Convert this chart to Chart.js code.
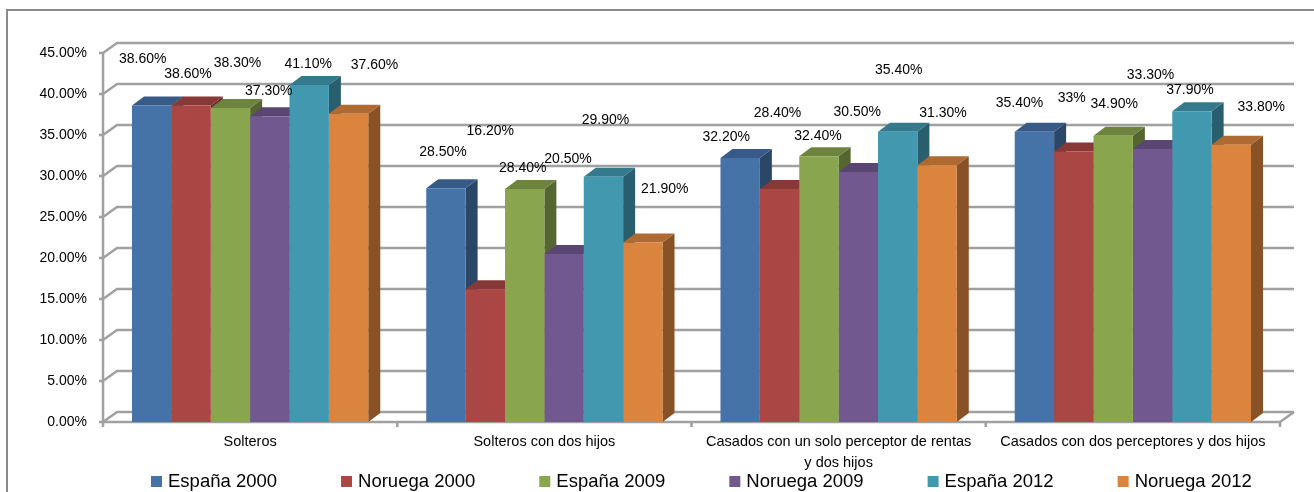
<!DOCTYPE html>
<html>
<head>
<meta charset="utf-8">
<title>Tipo impositivo por tipo de hogar</title>
<script src="https://cdn.jsdelivr.net/npm/chart.js@4.4.1/dist/chart.umd.min.js"></script>
<style>
  html, body { margin: 0; padding: 0; background: #fff; }
  #chart { display: block; }
</style>
</head>
<body>
<canvas id="chart" width="1314" height="492"></canvas>
<script>
// ─── Data ────────────────────────────────────────────────────────────────────

const categories = [
  'Solteros',
  'Solteros con dos hijos',
  ['Casados con un solo perceptor de rentas', 'y dos hijos'],
  'Casados con dos perceptores y dos hijos',
];

const seriesNames = ['España 2000', 'Noruega 2000', 'España 2009', 'Noruega 2009', 'España 2012', 'Noruega 2012'];

const espana2000  = [38.6, 28.5, 32.2, 35.4];
const noruega2000 = [38.6, 16.2, 28.4, 33.0];
const espana2009  = [38.3, 28.4, 32.4, 34.9];
const noruega2009 = [37.3, 20.5, 30.5, 33.3];
const espana2012  = [41.1, 29.9, 35.4, 37.9];
const noruega2012 = [37.6, 21.9, 31.3, 33.8];

const seriesValues = [espana2000, noruega2000, espana2009, noruega2009, espana2012, noruega2012];

const yTicks = { min: 0, max: 45, step: 5 };

// ─── Style ───────────────────────────────────────────────────────────────────

const SERIES_COLORS = ['#4572A7', '#AA4643', '#89A54E', '#71588F', '#4198AF', '#DB843D'];

// where each value label sits relative to the top centre of its bar (px)
const labelShift = [
  [[-9, -46], [-3, -36], [-14, -21], [-15, -29]],
  [[-3, -31], [5, -158], [-2, -76], [-2, -53]],
  [[7, -45], [-2, -21], [-1, -20], [1, -32]],
  [[-1, -25], [4, -95], [-1, -60], [-2, -74]],
  [[-1, -21], [2, -57], [1, -62], [-2, -21]],
  [[26, -49], [22, -53], [6, -52], [30, -38]],
];

const FONT = '"Liberation Sans", Arial, sans-serif';
const BAR_DEPTH  = { x: 12, y: 9 };
const WALL_DEPTH = { x: 14, y: 10 };
const GRID_COLOR = '#a0a0a0';

function shade(hex, f) {
  const n = parseInt(hex.slice(1), 16);
  const r = Math.round(((n >> 16) & 255) * f);
  const g = Math.round(((n >> 8) & 255) * f);
  const b = Math.round((n & 255) * f);
  return `rgb(${r},${g},${b})`;
}

function fmtPct(v) {
  return Number.isInteger(v) ? `${v}%` : `${v.toFixed(2)}%`;
}

// ─── 3D box plugin: walls, bar sides/tops, labels, legend ─────────────────────

const box3d = {
  id: 'box3d',

  beforeDraw(chart) {
    const { ctx, width, height } = chart;
    ctx.save();
    ctx.fillStyle = '#fff';
    ctx.fillRect(0, 0, width, height);
    // outer frame
    ctx.strokeStyle = '#8a8a8a';
    ctx.lineWidth = 2;
    ctx.beginPath();
    ctx.moveTo(7, height + 2);
    ctx.lineTo(7, 10);
    ctx.lineTo(width + 2, 10);
    ctx.stroke();
    ctx.restore();
  },

  beforeDatasetsDraw(chart) {
    const { ctx, chartArea: { left: L, right: R, top: T, bottom: B } } = chart;
    const ys = chart.scales.y;
    const wx = WALL_DEPTH.x, wy = WALL_DEPTH.y;

    ctx.save();
    ctx.strokeStyle = GRID_COLOR;
    ctx.lineWidth = 2.5;
    ctx.lineJoin = 'round';

    // side wall + back wall gridlines
    ys.ticks.forEach((t) => {
      const py = ys.getPixelForValue(t.value);
      ctx.beginPath();
      ctx.moveTo(L - 4, py);
      ctx.lineTo(L, py);
      ctx.lineTo(L + wx, py - wy);
      ctx.lineTo(R + wx, py - wy);
      ctx.stroke();
    });

    // vertical axis, floor edges
    ctx.beginPath();
    ctx.moveTo(L, T);
    ctx.lineTo(L, B + 5);
    ctx.moveTo(L, B);
    ctx.lineTo(R, B);
    ctx.lineTo(R + wx, B - wy);
    ctx.stroke();

    // category tick marks
    const n = categories.length;
    ctx.beginPath();
    for (let i = 1; i <= n; i++) {
      const x = L + (R - L) * i / n;
      ctx.moveTo(x, B);
      ctx.lineTo(x, B + 5);
    }
    ctx.stroke();

    // bar side and top faces, left to right so neighbours overlap correctly
    const dx = BAR_DEPTH.x, dy = BAR_DEPTH.y;
    for (let i = 0; i < n; i++) {
      chart.data.datasets.forEach((ds, j) => {
        const bar = chart.getDatasetMeta(j).data[i];
        const { x, y, base, width } = bar.getProps(['x', 'y', 'base', 'width'], true);
        const l = x - width / 2, r = x + width / 2;
        const c = ds.backgroundColor;

        ctx.fillStyle = shade(c, 0.62);
        ctx.beginPath();
        ctx.moveTo(r, y);
        ctx.lineTo(r + dx, y - dy);
        ctx.lineTo(r + dx, base - dy);
        ctx.lineTo(r, base);
        ctx.closePath();
        ctx.fill();

        ctx.fillStyle = shade(c, 0.8);
        ctx.beginPath();
        ctx.moveTo(l, y);
        ctx.lineTo(r, y);
        ctx.lineTo(r + dx, y - dy);
        ctx.lineTo(l + dx, y - dy);
        ctx.closePath();
        ctx.fill();
      });
    }
    ctx.restore();
  },

  afterDatasetsDraw(chart) {
    const { ctx } = chart;
    ctx.save();
    ctx.font = `14px ${FONT}`;
    ctx.fillStyle = '#000';
    ctx.textAlign = 'center';
    ctx.textBaseline = 'middle';
    chart.data.datasets.forEach((ds, j) => {
      chart.getDatasetMeta(j).data.forEach((bar, i) => {
        const [ox, oy] = labelShift[j][i];
        ctx.fillText(fmtPct(ds.data[i]), bar.x + ox, bar.y + oy);
      });
    });
    ctx.restore();
  },

  afterDraw(chart) {
    // legend row along the bottom
    const { ctx } = chart;
    ctx.save();
    ctx.font = `18.5px ${FONT}`;
    ctx.textAlign = 'left';
    ctx.textBaseline = 'alphabetic';
    let x = 151;
    const baseY = 487;
    chart.data.datasets.forEach((ds) => {
      ctx.fillStyle = ds.backgroundColor;
      ctx.fillRect(x, 476, 11, 11);
      ctx.fillStyle = '#000';
      ctx.fillText(ds.label, x + 17, baseY);
      x += 17 + ctx.measureText(ds.label).width + 64;
    });
    ctx.restore();
  },
};

// ─── Chart ───────────────────────────────────────────────────────────────────

new Chart(document.getElementById('chart'), {
  type: 'bar',
  data: {
    labels: categories,
    datasets: seriesNames.map((name, j) => ({
      label: name,
      data: seriesValues[j],
      backgroundColor: SERIES_COLORS[j],
      borderWidth: 0,
      barPercentage: 1,
      categoryPercentage: 0.803,
    })),
  },
  options: {
    responsive: false,
    animation: false,
    devicePixelRatio: 1,
    layout: { padding: { top: 53, right: 34, bottom: 0, left: 0 } },
    plugins: {
      legend: { display: false },
      tooltip: { enabled: false },
    },
    scales: {
      x: {
        grid: { display: false, drawTicks: false },
        border: { display: false },
        ticks: {
          color: '#000',
          font: { family: FONT, size: 14.5, lineHeight: 1.45 },
          padding: 9,
          maxRotation: 0,
          autoSkip: false,
        },
        afterFit: (s) => { s.height = 70; },
      },
      y: {
        min: yTicks.min,
        max: yTicks.max,
        grid: { display: false, drawTicks: false },
        border: { display: false },
        ticks: {
          stepSize: yTicks.step,
          color: '#000',
          font: { family: FONT, size: 14 },
          padding: 16,
          callback: (v) => `${Number(v).toFixed(2)}%`,
        },
        afterFit: (s) => { s.width = 103; },
      },
    },
  },
  plugins: [box3d],
});
</script>
</body>
</html>
